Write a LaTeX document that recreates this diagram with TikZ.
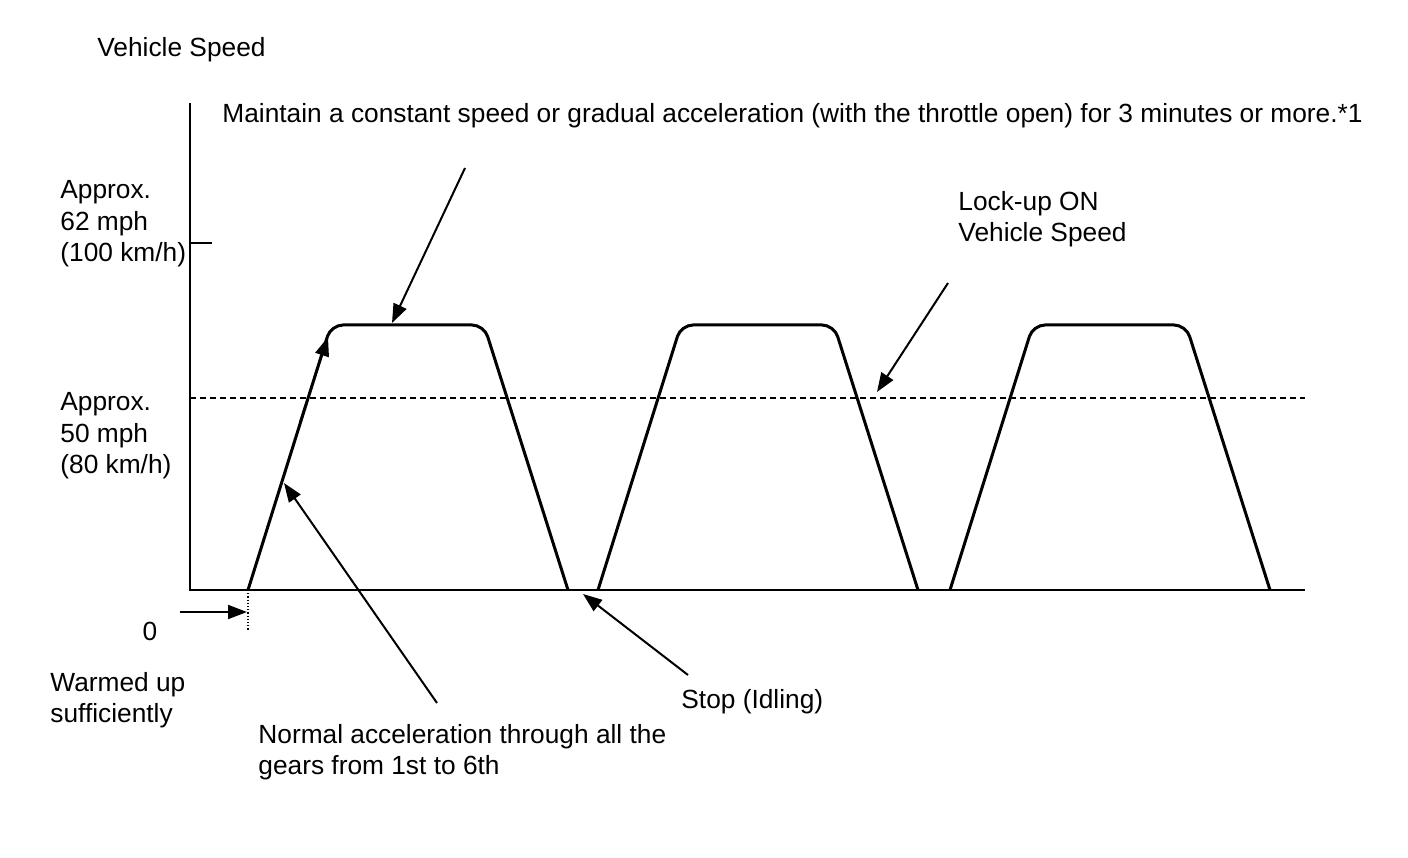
\documentclass[tikz,border=0pt]{standalone}
\usepackage{fontspec}
\setmainfont{Liberation Sans}
\usetikzlibrary{positioning}
\usetikzlibrary{arrows.meta}

\begin{document}
\begin{tikzpicture}[x=1pt,y=-1pt,>={Triangle[length=19pt,width=14pt]},
                thick,
                txt/.style={anchor=west,inner sep=0pt,align=left,font=\fontsize{26.3}{31.5}\selectfont},
                axis/.style={line width=2pt},
                trace/.style={line width=3pt,rounded corners=12pt},
                pointer/.style={->,line width=2pt,shorten >=0pt}]

  \useasboundingbox (0,0) rectangle (1408,858);

  % labels
  \node[txt] (vs) at (97,50) {Vehicle Speed};
  \node[txt] (keep) at (222,116) {Maintain a constant speed or gradual acceleration (with the throttle open) for 3 minutes or more.*1};
  \node[txt] (hi) at (60,224) {Approx.\\62 mph\\(100 km/h)};
  \node[txt] (lo) at (60,436) {Approx.\\50 mph\\(80 km/h)};
  \node[txt,anchor=center] (zero) at (150,631) {0};
  \node[txt] (warm) at (50,700) {Warmed up\\sufficiently};
  \node[txt] (lock) at (958,219) {Lock-up ON\\Vehicle Speed};
  \node[txt] (accel) at (258,752) {Normal acceleration through all the\\gears from 1st to 6th};
  \node[txt] (stop) at (681,702) {Stop (Idling)};

  % axes
  \coordinate (org) at (190,590);
  \coordinate (ytop) at (190,103);
  \coordinate (xend) at (1305,590);
  \draw[axis] (ytop) -- (org) -- (xend);
  \draw[line width=1.2pt] (190,243) -- (212,243);
  \draw[line width=1.2pt,dash pattern=on 6pt off 4pt] (190,398) -- (1305,398);
  \draw[line width=1.2pt,dotted] (248,590) -- (248,630);

  % speed pattern
  \foreach \s in {248,598,950}
    \draw[trace] (\s,590) -- (\s+83,325) -- (\s+236,325) -- (\s+320,590);

  % pointers
  \coordinate (z0) at (180,612);
  \coordinate (z1) at (247,612);
  \coordinate (r0) at (300,422);
  \coordinate (r1) at (328,337);
  \coordinate (m0) at (465,168);
  \coordinate (m1) at (392,323);
  \coordinate (l0) at (948,283);
  \coordinate (l1) at (877,392);
  \coordinate (a0) at (437,703);
  \coordinate (a1) at (284,483);
  \coordinate (s0) at (688,675);
  \coordinate (s1) at (583,594);

  \path
    (z0) edge [pointer] (z1)
    (r0) edge [pointer] (r1)
    (m0) edge [pointer] (m1)
    (l0) edge [pointer] (l1)
    (a0) edge [pointer] (a1)
    (s0) edge [pointer] (s1);

\end{tikzpicture}
\end{document}
